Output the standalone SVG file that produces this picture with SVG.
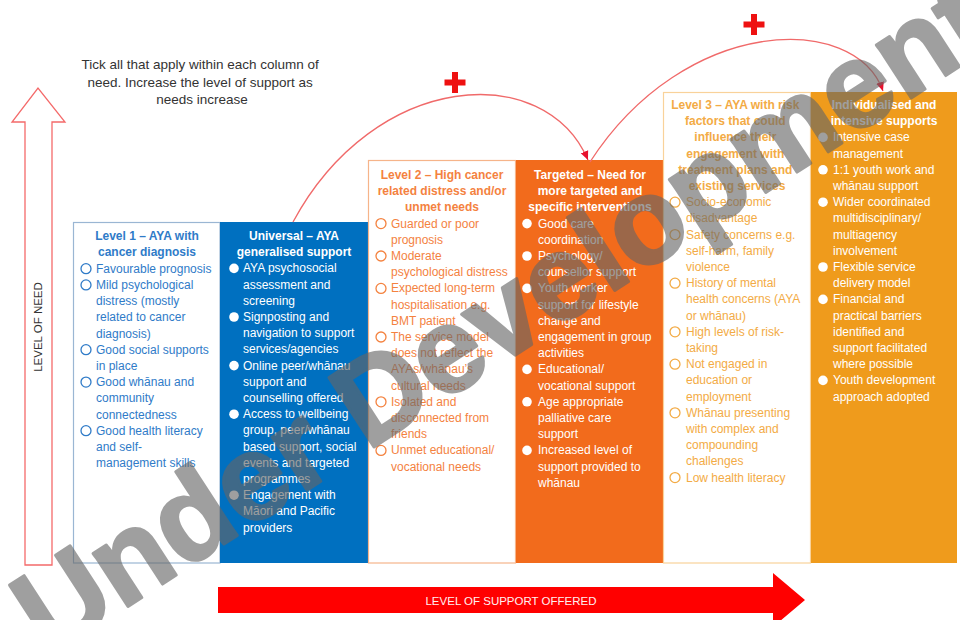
<svg xmlns="http://www.w3.org/2000/svg" width="960" height="620" viewBox="0 0 960 620">
  <defs>
    <marker id="arrowRed" markerWidth="10" markerHeight="10" refX="9" refY="5" orient="auto" markerUnits="userSpaceOnUse">
      <path d="M0,1 L9,5 L0,9 Z" fill="#e8112d"/>
    </marker>
    <style>
      text { font-family: "Liberation Sans", Arial, sans-serif; }
      .col { font-size: 12px; }
      .head { font-weight: bold; text-anchor: middle; }
      .blue { fill: #2f7bc8; }
      .white { fill: #ffffff; }
      .orange { fill: #f4823f; }
      .amber { fill: #f3ab45; }
      .ring { fill: none; stroke-width: 1.3; }
      .dot { fill: #ffffff; }
      .arc { fill: none; stroke: #f06a6a; stroke-width: 1.3; }
      .plus { fill: #ee1111; }
    </style>
  </defs>

  <rect width="960" height="620" fill="#ffffff"/>

  <!-- instruction note -->
  <text x="202" y="69" font-size="13.5" fill="#333333" text-anchor="middle">
    <tspan x="202">Tick all that apply within each column of</tspan>
    <tspan x="202" dy="17.7">need. Increase the level of support as</tspan>
    <tspan x="202" dy="17.7">needs increase</tspan>
  </text>

  <!-- vertical axis: level of need -->
  <g id="need-axis">
    <polygon points="25,565 25,122 12,122 38,88 65,122 52,122 52,565" fill="#ffffff" stroke="#f46a6a" stroke-width="1.3"/>
    <text transform="translate(42,327) rotate(-90)" font-size="11.5" fill="#333333" text-anchor="middle">LEVEL OF NEED</text>
  </g>

  <!-- horizontal axis: level of support -->
  <g id="support-axis">
    <polygon points="218,587 773,587 773,573 805,600 773,627 773,613 218,613" fill="#ff0000"/>
    <text x="511" y="605" font-size="11.5" fill="#fff0f0" text-anchor="middle">LEVEL OF SUPPORT OFFERED</text>
  </g>

  <!-- Level 1 -->
  <g id="level1" class="col">
    <rect x="73.5" y="222.5" width="146.5" height="340.5" fill="#ffffff" stroke="#9ab6d3" stroke-width="1.2"/>
    <text class="head blue" x="147" y="240"><tspan x="147">Level 1 – AYA with</tspan><tspan x="147" dy="16.2">cancer diagnosis</tspan></text>
    <g class="ring" stroke="#2f7bc8">
      <circle cx="86" cy="268.7" r="5"/>
      <circle cx="86" cy="284.9" r="5"/>
      <circle cx="86" cy="349.7" r="5"/>
      <circle cx="86" cy="382.1" r="5"/>
      <circle cx="86" cy="430.7" r="5"/>
    </g>
    <text class="blue" x="96" y="272.7">
      <tspan x="96">Favourable prognosis</tspan>
      <tspan x="96" dy="16.2">Mild psychological</tspan>
      <tspan x="96" dy="16.2">distress (mostly</tspan>
      <tspan x="96" dy="16.2">related to cancer</tspan>
      <tspan x="96" dy="16.2">diagnosis)</tspan>
      <tspan x="96" dy="16.2">Good social supports</tspan>
      <tspan x="96" dy="16.2">in place</tspan>
      <tspan x="96" dy="16.2">Good whānau and</tspan>
      <tspan x="96" dy="16.2">community</tspan>
      <tspan x="96" dy="16.2">connectedness</tspan>
      <tspan x="96" dy="16.2">Good health literacy</tspan>
      <tspan x="96" dy="16.2">and self-</tspan>
      <tspan x="96" dy="16.2">management skills</tspan>
    </text>
  </g>

  <!-- Universal support -->
  <g id="universal" class="col">
    <rect x="220" y="222" width="148" height="341" fill="#0070c0"/>
    <text class="head white" x="294" y="240"><tspan x="294">Universal – AYA</tspan><tspan x="294" dy="16.2">generalised support</tspan></text>
    <g class="dot">
      <circle cx="234" cy="268.4" r="4.8"/>
      <circle cx="234" cy="317" r="4.8"/>
      <circle cx="234" cy="365.6" r="4.8"/>
      <circle cx="234" cy="414.2" r="4.8"/>
      <circle cx="234" cy="495.2" r="4.8"/>
    </g>
    <text class="white" x="243" y="272.4">
      <tspan x="243">AYA psychosocial</tspan>
      <tspan x="243" dy="16.2">assessment and</tspan>
      <tspan x="243" dy="16.2">screening</tspan>
      <tspan x="243" dy="16.2">Signposting and</tspan>
      <tspan x="243" dy="16.2">navigation to support</tspan>
      <tspan x="243" dy="16.2">services/agencies</tspan>
      <tspan x="243" dy="16.2">Online peer/whānau</tspan>
      <tspan x="243" dy="16.2">support and</tspan>
      <tspan x="243" dy="16.2">counselling offered</tspan>
      <tspan x="243" dy="16.2">Access to wellbeing</tspan>
      <tspan x="243" dy="16.2">group, peer/whānau</tspan>
      <tspan x="243" dy="16.2">based support, social</tspan>
      <tspan x="243" dy="16.2">events and targeted</tspan>
      <tspan x="243" dy="16.2">programmes</tspan>
      <tspan x="243" dy="16.2">Engagement with</tspan>
      <tspan x="243" dy="16.2">Māori and Pacific</tspan>
      <tspan x="243" dy="16.2">providers</tspan>
    </text>
  </g>

  <!-- Level 2 -->
  <g id="level2" class="col">
    <rect x="368.5" y="160.5" width="147" height="402.5" fill="#ffffff" stroke="#f6b48a" stroke-width="1.2"/>
    <text class="head orange" x="442" y="179"><tspan x="442">Level 2 – High cancer</tspan><tspan x="442" dy="16.2">related distress and/or</tspan><tspan x="442" dy="16.2">unmet needs</tspan></text>
    <g class="ring" stroke="#f4823f">
      <circle cx="381" cy="223.6" r="5"/>
      <circle cx="381" cy="256" r="5"/>
      <circle cx="381" cy="288.4" r="5"/>
      <circle cx="381" cy="337" r="5"/>
      <circle cx="381" cy="401.8" r="5"/>
      <circle cx="381" cy="450.4" r="5"/>
    </g>
    <text class="orange" x="391" y="227.6">
      <tspan x="391">Guarded or poor</tspan>
      <tspan x="391" dy="16.2">prognosis</tspan>
      <tspan x="391" dy="16.2">Moderate</tspan>
      <tspan x="391" dy="16.2">psychological distress</tspan>
      <tspan x="391" dy="16.2">Expected long-term</tspan>
      <tspan x="391" dy="16.2">hospitalisation e.g.</tspan>
      <tspan x="391" dy="16.2">BMT patient</tspan>
      <tspan x="391" dy="16.2">The service model</tspan>
      <tspan x="391" dy="16.2">does not reflect the</tspan>
      <tspan x="391" dy="16.2">AYAs/whānau’s</tspan>
      <tspan x="391" dy="16.2">cultural needs</tspan>
      <tspan x="391" dy="16.2">Isolated and</tspan>
      <tspan x="391" dy="16.2">disconnected from</tspan>
      <tspan x="391" dy="16.2">friends</tspan>
      <tspan x="391" dy="16.2">Unmet educational/</tspan>
      <tspan x="391" dy="16.2">vocational needs</tspan>
    </text>
  </g>

  <!-- Targeted support -->
  <g id="targeted" class="col">
    <rect x="516" y="160" width="147" height="403" fill="#f26b1c"/>
    <text class="head white" x="590" y="179"><tspan x="590">Targeted – Need for</tspan><tspan x="590" dy="16.2">more targeted and</tspan><tspan x="590" dy="16.2">specific interventions</tspan></text>
    <g class="dot">
      <circle cx="527" cy="223.6" r="4.8"/>
      <circle cx="527" cy="256" r="4.8"/>
      <circle cx="527" cy="288.4" r="4.8"/>
      <circle cx="527" cy="369.4" r="4.8"/>
      <circle cx="527" cy="401.8" r="4.8"/>
      <circle cx="527" cy="450.4" r="4.8"/>
    </g>
    <text class="white" x="538" y="227.6">
      <tspan x="538">Good care</tspan>
      <tspan x="538" dy="16.2">coordination</tspan>
      <tspan x="538" dy="16.2">Psychology/</tspan>
      <tspan x="538" dy="16.2">counsellor support</tspan>
      <tspan x="538" dy="16.2">Youth worker</tspan>
      <tspan x="538" dy="16.2">support for lifestyle</tspan>
      <tspan x="538" dy="16.2">change and</tspan>
      <tspan x="538" dy="16.2">engagement in group</tspan>
      <tspan x="538" dy="16.2">activities</tspan>
      <tspan x="538" dy="16.2">Educational/</tspan>
      <tspan x="538" dy="16.2">vocational support</tspan>
      <tspan x="538" dy="16.2">Age appropriate</tspan>
      <tspan x="538" dy="16.2">palliative care</tspan>
      <tspan x="538" dy="16.2">support</tspan>
      <tspan x="538" dy="16.2">Increased level of</tspan>
      <tspan x="538" dy="16.2">support provided to</tspan>
      <tspan x="538" dy="16.2">whānau</tspan>
    </text>
  </g>

  <!-- Level 3 -->
  <g id="level3" class="col">
    <rect x="663.5" y="92.5" width="147" height="470.5" fill="#ffffff" stroke="#f9d29a" stroke-width="1.2"/>
    <text class="head amber" x="737" y="109">
      <tspan x="737">Level 3 – AYA with risk</tspan>
      <tspan x="737" dy="16.2">factors that could</tspan>
      <tspan x="737" dy="16.2">influence their</tspan>
      <tspan x="737" dy="16.2">engagement with</tspan>
      <tspan x="737" dy="16.2">treatment plans and</tspan>
      <tspan x="737" dy="16.2">existing services</tspan>
    </text>
    <g class="ring" stroke="#f3ab45">
      <circle cx="675" cy="202.2" r="5"/>
      <circle cx="675" cy="234.6" r="5"/>
      <circle cx="675" cy="283.2" r="5"/>
      <circle cx="675" cy="331.8" r="5"/>
      <circle cx="675" cy="364.2" r="5"/>
      <circle cx="675" cy="412.8" r="5"/>
      <circle cx="675" cy="477.6" r="5"/>
    </g>
    <text class="amber" x="686" y="206.2">
      <tspan x="686">Socio-economic</tspan>
      <tspan x="686" dy="16.2">disadvantage</tspan>
      <tspan x="686" dy="16.2">Safety concerns e.g.</tspan>
      <tspan x="686" dy="16.2">self-harm, family</tspan>
      <tspan x="686" dy="16.2">violence</tspan>
      <tspan x="686" dy="16.2">History of mental</tspan>
      <tspan x="686" dy="16.2">health concerns (AYA</tspan>
      <tspan x="686" dy="16.2">or whānau)</tspan>
      <tspan x="686" dy="16.2">High levels of risk-</tspan>
      <tspan x="686" dy="16.2">taking</tspan>
      <tspan x="686" dy="16.2">Not engaged in</tspan>
      <tspan x="686" dy="16.2">education or</tspan>
      <tspan x="686" dy="16.2">employment</tspan>
      <tspan x="686" dy="16.2">Whānau presenting</tspan>
      <tspan x="686" dy="16.2">with complex and</tspan>
      <tspan x="686" dy="16.2">compounding</tspan>
      <tspan x="686" dy="16.2">challenges</tspan>
      <tspan x="686" dy="16.2">Low health literacy</tspan>
    </text>
  </g>

  <!-- Individualised support -->
  <g id="individualised" class="col">
    <rect x="811" y="92" width="146" height="471" fill="#ef9b1c"/>
    <text class="head white" x="884" y="109"><tspan x="884">Individualised and</tspan><tspan x="884" dy="16.2">intensive supports</tspan></text>
    <g class="dot">
      <circle cx="823" cy="137.4" r="4.8"/>
      <circle cx="823" cy="169.8" r="4.8"/>
      <circle cx="823" cy="202.2" r="4.8"/>
      <circle cx="823" cy="267" r="4.8"/>
      <circle cx="823" cy="299.4" r="4.8"/>
      <circle cx="823" cy="380.4" r="4.8"/>
    </g>
    <text class="white" x="833" y="141.4">
      <tspan x="833">Intensive case</tspan>
      <tspan x="833" dy="16.2">management</tspan>
      <tspan x="833" dy="16.2">1:1 youth work and</tspan>
      <tspan x="833" dy="16.2">whānau support</tspan>
      <tspan x="833" dy="16.2">Wider coordinated</tspan>
      <tspan x="833" dy="16.2">multidisciplinary/</tspan>
      <tspan x="833" dy="16.2">multiagency</tspan>
      <tspan x="833" dy="16.2">involvement</tspan>
      <tspan x="833" dy="16.2">Flexible service</tspan>
      <tspan x="833" dy="16.2">delivery model</tspan>
      <tspan x="833" dy="16.2">Financial and</tspan>
      <tspan x="833" dy="16.2">practical barriers</tspan>
      <tspan x="833" dy="16.2">identified and</tspan>
      <tspan x="833" dy="16.2">support facilitated</tspan>
      <tspan x="833" dy="16.2">where possible</tspan>
      <tspan x="833" dy="16.2">Youth development</tspan>
      <tspan x="833" dy="16.2">approach adopted</tspan>
    </text>
  </g>

  <!-- escalation arcs -->
  <g id="connectors">
    <path class="arc" d="M293,222 C375,70 545,60 588,160" marker-end="url(#arrowRed)"/>
    <path class="arc" d="M590,162 C685,15 855,12 883,91" marker-end="url(#arrowRed)"/>
    <path class="plus" d="M452,72 h6 v7.5 h7.5 v6 h-7.5 v7.5 h-6 v-7.5 h-7.5 v-6 h7.5 Z"/>
    <path class="plus" d="M751,14 h6 v7.5 h7.5 v6 h-7.5 v7.5 h-6 v-7.5 h-7.5 v-6 h7.5 Z"/>
  </g>

  <!-- draft stamp across the page -->
  <g opacity="0.62">
    <text transform="translate(502,316) rotate(-33)" x="0" y="40" font-size="120" font-weight="bold" fill="#666666" stroke="#666666" stroke-width="3" stroke-linejoin="round" text-anchor="middle">Under Development</text>
  </g>
</svg>
